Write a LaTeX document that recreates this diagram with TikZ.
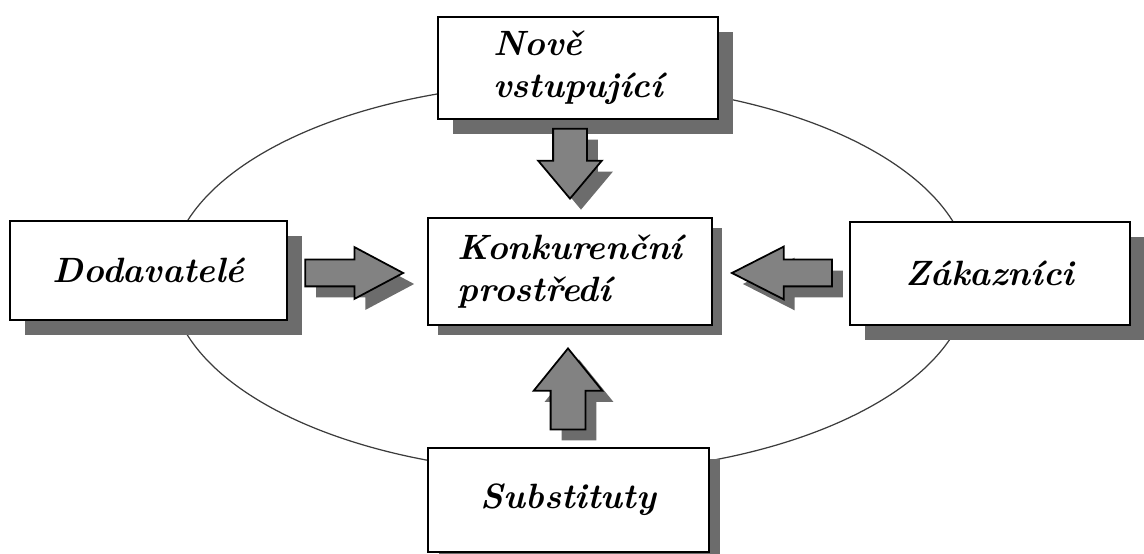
\documentclass[tikz,border=0pt]{standalone}
\usetikzlibrary{shapes.arrows,shadows}
\definecolor{shadowgray}{RGB}{108,108,108}
\definecolor{arrowgray}{RGB}{130,130,130}
\definecolor{ringgray}{RGB}{60,60,60}
\begin{document}
\begin{tikzpicture}

\tikzset{
box/.style={draw,fill=white,line width=1.6pt,inner sep=2pt,align=left,
  drop shadow={shadow xshift=#1,shadow yshift=-#1,fill=shadowgray,opacity=1},
  font={\fontsize{20}{24}\selectfont\bfseries\itshape}},
box/.default=0.3cm,
thinbox/.style={box,line width=0.9pt},
bigarrow/.style={single arrow,draw,fill=arrowgray,line width=1pt,anchor=tip,
  drop shadow={shadow xshift=0.22cm,shadow yshift=-0.22cm,fill=shadowgray,opacity=1}}
}
\useasboundingbox (0,0) rectangle (22.88,11.08);

% ring
\coordinate (mid) at (11.4,5.52);
\draw[ringgray,line width=0.7pt] (mid) ellipse (8cm and 3.9cm);

% boxes
\node[thinbox,minimum width=5.6cm,minimum height=2.04cm] (nove) at (11.56,9.72) {Nově\\vstupující};
\node[thinbox,minimum width=5.54cm,minimum height=1.98cm] (dodav) at (2.97,5.67) {Dodavatelé};
\node[box=0.2cm,minimum width=5.68cm,minimum height=2.14cm] (konk) at (11.4,5.65) {Konkurenční\\prostředí};
\node[box,minimum width=5.6cm,minimum height=2.06cm] (zak) at (19.8,5.61) {Zákazníci};
\node[box=0.22cm,minimum width=5.62cm,minimum height=2.08cm] (subst) at (11.37,1.08) {Substituty};

% arrows
\node[bigarrow,shape border rotate=270,minimum height=1.4cm,inner sep=0.32cm,
  single arrow head extend=0.3cm,single arrow tip angle=80] (fromnove) at (11.40,7.08) {};
\node[bigarrow,shape border rotate=90,minimum height=1.62cm,inner sep=0.33cm,
  single arrow head extend=0.34cm,single arrow tip angle=78] (fromsubst) at (11.36,4.14) {};
\node[bigarrow,minimum height=1.96cm,inner sep=0.25cm,
  single arrow head extend=0.25cm,single arrow tip angle=56] (fromdodav) at (8.10,5.62) {};
\node[bigarrow,shape border rotate=180,minimum height=2.0cm,inner sep=0.25cm,
  single arrow head extend=0.26cm,single arrow tip angle=54] (fromzak) at (14.60,5.62) {};

\end{tikzpicture}
\end{document}
